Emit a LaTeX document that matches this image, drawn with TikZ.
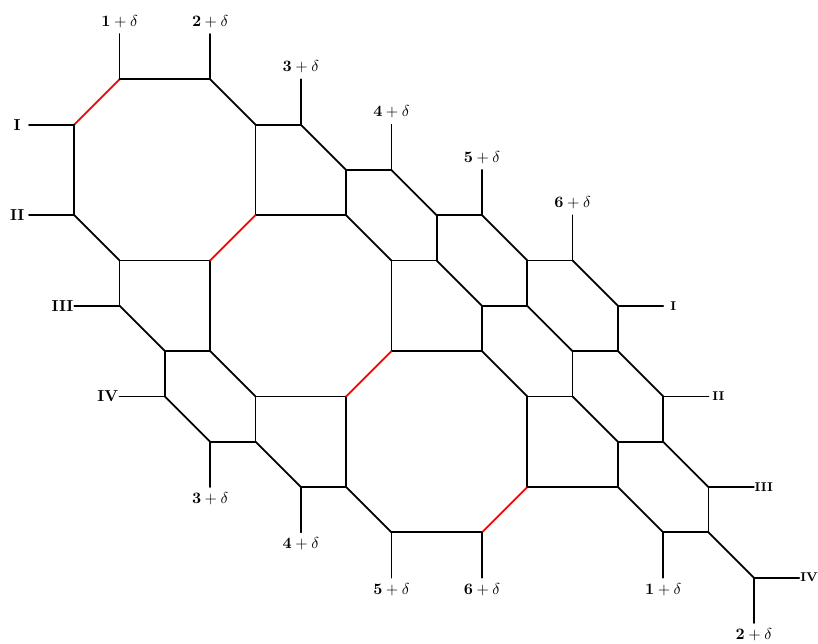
\documentclass[tikz,border=0pt]{standalone}
\usepackage{tikz}
\usetikzlibrary{positioning}

\begin{document}
\begin{tikzpicture}[
    edge/.style={line width=1.1pt, line cap=round},
    cut/.style={line width=1.1pt, line cap=round, color=red},
    leglabel/.style={inner sep=0pt},
    smalllabel/.style={inner sep=0pt, font=\footnotesize}
  ]
  \useasboundingbox (-0.640,0.751) rectangle (17.417,-13.444);

  %%%%% grid points %%%%%
  \foreach \i in {0,...,17}
    \foreach \k in {0,...,13}
      \coordinate (p\i-\k) at (\i,-\k);

  %%%%% octagons %%%%%
  \foreach \a/\b in {2-1/4-1, 4-1/5-2, 5-2/5-4, 4-5/2-5, 2-5/1-4, 1-4/1-2,
                     5-4/7-4, 7-4/8-5, 8-5/8-7, 7-8/5-8, 5-8/4-7, 4-7/4-5,
                     8-7/10-7, 10-7/11-8, 11-8/11-10, 10-11/8-11, 8-11/7-10, 7-10/7-8}
    \draw[edge] (p\a) -- (p\b);

  \foreach \a/\b in {1-2/2-1, 4-5/5-4, 7-8/8-7, 10-11/11-10}
    \draw[cut] (p\a) -- (p\b);

  %%%%% upper strip %%%%%
  \foreach \a/\b in {5-2/6-2, 6-2/7-3, 7-3/8-3, 7-3/7-4, 8-3/9-4, 9-4/10-4,
                     9-4/9-5, 8-5/9-5, 10-4/11-5, 11-5/12-5, 11-5/11-6, 9-5/10-6,
                     10-6/11-6, 10-6/10-7, 12-5/13-6, 13-6/13-7, 11-6/12-7, 12-7/13-7,
                     12-7/12-8, 11-8/12-8, 12-8/13-9, 13-7/14-8, 14-8/14-9, 13-9/14-9,
                     13-9/13-10, 11-10/13-10, 14-9/15-10, 15-10/15-11, 13-10/14-11,
                     14-11/15-11, 15-11/16-12}
    \draw[edge] (p\a) -- (p\b);

  %%%%% lower strip %%%%%
  \foreach \a/\b in {2-5/2-6, 2-6/3-7, 3-7/4-7, 3-7/3-8, 3-8/4-9, 4-9/5-9,
                     5-8/5-9, 5-9/6-10, 6-10/7-10}
    \draw[edge] (p\a) -- (p\b);

  %%%%% external legs %%%%%
  \foreach \a/\b in {2-1/2-0, 4-1/4-0, 6-2/6-1, 8-3/8-2, 10-4/10-3, 12-5/12-4,
                     1-2/0-2, 1-4/0-4, 2-6/1-6, 3-8/2-8,
                     4-9/4-10, 6-10/6-11, 8-11/8-12, 10-11/10-12, 14-11/14-12, 16-12/16-13,
                     13-6/14-6, 14-8/15-8, 15-10/16-10, 16-12/17-12}
    \draw[edge] (p\a) -- (p\b);

  %%%%% labels %%%%%
  \foreach \i/\k/\t in {2/0/1, 4/0/2, 6/1/3, 8/2/4, 10/3/5, 12/4/6}
    \node[leglabel] (top\t) at (\i,-\k+0.28) {$\mathbf{\t}+\delta$};

  \foreach \i/\k/\t in {4/10/3, 6/11/4, 8/12/5, 10/12/6, 14/12/1, 16/13/2}
    \node[leglabel] (bot\t-\i) at (\i,-\k-0.26) {$\mathbf{\t}+\delta$};

  \foreach \i/\k/\t in {0/2/I, 0/4/II, 1/6/III, 2/8/IV}
    \node[leglabel] (left\t) at (\i-0.26,-\k) {\textbf{\t}};

  \foreach \i/\k/\t in {14/6/I, 15/8/II, 16/10/III, 17/12/IV}
    \node[smalllabel] (right\t) at (\i+0.22,-\k) {\textbf{\t}};

\end{tikzpicture}
\end{document}
